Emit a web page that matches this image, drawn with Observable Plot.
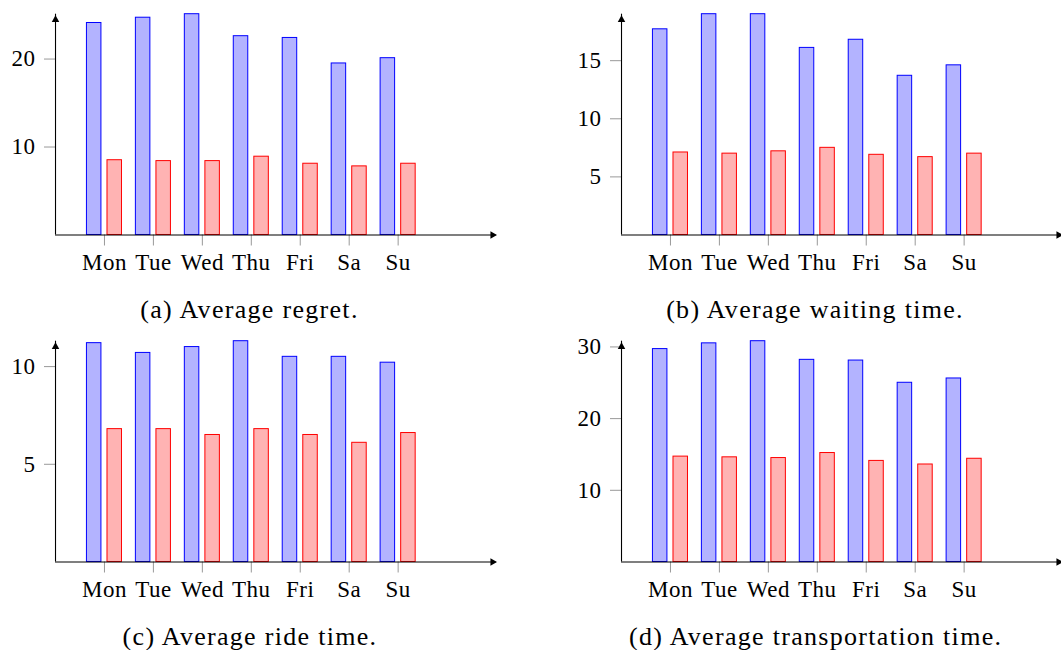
<!DOCTYPE html>
<html>
<head>
<meta charset="utf-8">
<script src="https://cdn.jsdelivr.net/npm/d3@7"></script>
<script src="https://cdn.jsdelivr.net/npm/@observablehq/plot@0.6"></script>
<style>
  html, body { margin: 0; padding: 0; background: #fff; overflow: hidden; }
  #wrap { position: relative; width: 1061px; height: 650px; overflow: hidden; }
  .panel { position: absolute; width: 700px; }
  .panel svg { overflow: visible; max-width: none !important; height: auto; }
  .cap { position: absolute; font-family: "Liberation Serif", "Times New Roman", serif; font-size: 26px;
         line-height: 30px; text-align: center; color: #000; letter-spacing: 1.3px; white-space: nowrap; }
</style>
</head>
<body>
<div id="wrap"></div>
<script>
// ---- data ----
const days = ["Mon", "Tue", "Wed", "Thu", "Fri", "Sa", "Su"];

const regretBlue = [24.1, 24.7, 25.1, 22.6, 22.4, 19.5, 20.1];
const regretRed  = [8.5, 8.4, 8.4, 8.9, 8.1, 7.8, 8.1];
const regretTicks = [10, 20];

const waitBlue = [17.7, 19.0, 19.0, 16.1, 16.8, 13.7, 14.6];
const waitRed  = [7.1, 7.0, 7.2, 7.5, 6.9, 6.7, 7.0];
const waitTicks = [5, 10, 15];

const rideBlue = [11.2, 10.7, 11.0, 11.3, 10.5, 10.5, 10.2];
const rideRed  = [6.8, 6.8, 6.5, 6.8, 6.5, 6.1, 6.6];
const rideTicks = [5, 10];

const transBlue = [29.7, 30.5, 30.8, 28.2, 28.1, 25.0, 25.6];
const transRed  = [14.7, 14.6, 14.5, 15.2, 14.1, 13.6, 14.4];
const transTicks = [10, 20, 30];

const captions = ["(a) Average regret.", "(b) Average waiting time.", "(c) Average ride time.", "(d) Average transportation time."];

// ---- styling / layout ----
const blueFill = "#b3b3ff", blueStroke = "#0000ff";
const redFill = "#ffb3b3", redStroke = "#ff0000";
const tickGray = "#999999";
const barShift = 0.21;   // bar shift in category units
const barHalf = 0.148;   // half bar width in category units
const xMin = -1, xMax = 8;
const unitPx = 48.95;
const plotH = 220.8;
const mTop = 13.7;
const mBottom = 55.5;

function panel(blue, red, yTicks, marginLeft) {
  const ymax = d3.max(blue);
  const rows = [];
  days.forEach((d, i) => {
    rows.push({i, v: blue[i], s: "blue"});
    rows.push({i, v: red[i], s: "red"});
  });
  const width = marginLeft + (xMax - xMin) * unitPx + 40;
  return Plot.plot({
    width,
    height: mTop + plotH + mBottom,
    marginLeft,
    marginRight: width - marginLeft - (xMax - xMin) * unitPx,
    marginTop: mTop,
    marginBottom: mBottom,
    x: {domain: [xMin, xMax], axis: null, label: null},
    y: {domain: [0, ymax], axis: null, label: null},
    style: {fontFamily: "'Liberation Serif', 'Times New Roman', serif", fontSize: "23px", background: "transparent", color: "#000", letterSpacing: "0.5px", maxWidth: "none"},
    marks: [
      Plot.axisX({ticks: d3.range(days.length), tickFormat: i => days[i], tickSize: 11, tickPadding: 8,
                  stroke: tickGray, fill: "#000", label: null}),
      Plot.axisY({ticks: yTicks, tickFormat: d => String(d), tickSize: 11, tickPadding: 9,
                  stroke: tickGray, fill: "#000", label: null}),
      Plot.rectY(rows, {
        x1: d => d.i + (d.s === "blue" ? -barShift : barShift) - barHalf,
        x2: d => d.i + (d.s === "blue" ? -barShift : barShift) + barHalf,
        y1: 0, y2: "v",
        fill: d => d.s === "blue" ? blueFill : redFill,
        stroke: d => d.s === "blue" ? blueStroke : redStroke,
        strokeWidth: 1
      }),
      Plot.ruleY([0], {x1: xMin, x2: xMax, stroke: "#000", strokeWidth: 1.1}),
      Plot.ruleX([xMin], {y1: 0, y2: ymax, stroke: "#000", strokeWidth: 1.1}),
      Plot.dot([{x: xMax, y: 0}], {x: "x", y: "y", symbol: "triangle", r: 2.8, rotate: 90, fill: "#000", stroke: null, dx: -3.4}),
      Plot.dot([{x: xMin, y: ymax}], {x: "x", y: "y", symbol: "triangle", r: 2.8, rotate: 0, fill: "#000", stroke: null, dy: 5.5})
    ]
  });
}

const wrap = document.getElementById("wrap");
const specs = [
  {blue: regretBlue, red: regretRed, ticks: regretTicks, left: 0, top: 0, ml: 55, cx: 249.5, cy: 310},
  {blue: waitBlue, red: waitRed, ticks: waitTicks, left: 530, top: 0, ml: 91, cx: 815, cy: 310},
  {blue: rideBlue, red: rideRed, ticks: rideTicks, left: 0, top: 326.6, ml: 55, cx: 250, cy: 636.7},
  {blue: transBlue, red: transRed, ticks: transTicks, left: 530, top: 326.6, ml: 91, cx: 815.7, cy: 636.7}
];
specs.forEach((s, k) => {
  const div = document.createElement("div");
  div.className = "panel";
  div.style.left = s.left + "px";
  div.style.top = s.top + "px";
  div.appendChild(panel(s.blue, s.red, s.ticks, s.ml));
  wrap.appendChild(div);
  const cap = document.createElement("div");
  cap.className = "cap";
  cap.textContent = captions[k];
  cap.style.width = "600px";
  cap.style.left = (s.cx - 300) + "px";
  cap.style.top = (s.cy - 15) + "px";
  wrap.appendChild(cap);
});
</script>
</body>
</html>
